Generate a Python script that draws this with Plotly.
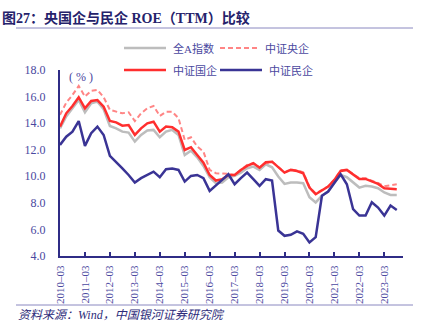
import plotly.graph_objects as go

quarters = [f"{y}-{m}" for y in range(2010, 2024) for m in ("03", "06", "09", "12")][:55]

all_a = [13.61, 14.50, 15.12, 15.74, 14.82, 15.49, 15.62, 15.04, 13.79, 13.61, 13.36, 13.29, 12.61, 13.11, 13.44, 13.49,
         12.94, 13.36, 13.49, 13.11, 11.60, 11.93, 11.43, 10.78, 9.93, 9.48, 9.53, 9.93, 10.03, 10.28, 10.60, 10.73,
         10.48, 10.90, 10.68, 9.98, 9.43, 9.53, 9.53, 9.48, 8.43, 8.03, 8.53, 8.85, 9.53, 10.10, 9.93, 9.53,
         9.15, 9.28, 9.23, 9.10, 8.78, 8.60, 8.60]
soe_central = [14.62, 15.54, 16.12, 16.80, 16.00, 16.44, 16.50, 15.95, 15.00, 14.86, 14.74, 14.82, 14.16, 14.74, 15.12, 15.29,
               14.54, 14.86, 14.86, 14.37, 12.74, 12.94, 12.24, 11.86, 10.48, 10.23, 10.23, 10.18, 10.10, 10.48, 10.86, 10.98,
               10.68, 10.98, 11.10, 10.70, 10.30, 10.50, 10.45, 10.30, 9.20, 8.70, 8.95, 9.25, 9.75, 10.45, 10.50, 10.20,
               9.85, 9.85, 9.70, 9.50, 9.25, 9.35, 9.40]
soe = [13.74, 14.74, 15.29, 15.95, 15.12, 15.67, 15.74, 15.24, 14.16, 14.06, 13.81, 13.86, 13.11, 13.61, 13.99, 14.11,
       13.36, 13.74, 13.69, 13.36, 11.98, 12.19, 11.60, 11.03, 10.10, 9.68, 9.78, 10.10, 10.10, 10.48, 10.78, 10.98,
       10.65, 11.06, 11.10, 10.68, 10.28, 10.48, 10.40, 10.23, 9.15, 8.65, 8.93, 9.23, 9.73, 10.40, 10.48, 10.15,
       9.80, 9.80, 9.60, 9.43, 9.10, 9.05, 9.03]
private = [12.36, 12.98, 13.36, 14.16, 12.29, 13.24, 13.74, 13.11, 11.53, 11.10, 10.60, 10.10, 9.53, 9.86, 10.10, 10.35,
           9.93, 10.53, 10.58, 10.48, 9.60, 10.03, 10.10, 9.86, 8.90, 9.28, 9.73, 10.15, 9.40, 9.86, 10.28, 9.78,
           9.28, 9.78, 9.68, 5.92, 5.52, 5.60, 5.85, 5.67, 5.02, 5.42, 8.53, 8.85, 9.48, 10.15, 9.40, 7.52,
           7.04, 7.04, 8.05, 7.65, 7.04, 7.80, 7.47]

tick_vals = [f"{y}-03" for y in range(2010, 2024)]
tick_text = [f"{y}–03" for y in range(2010, 2024)]

NAVY = "#2F2C86"
TXT = "#4A48A0"
SERIF = "Liberation Serif, Noto Sans CJK SC"
DASH = "5px,3px"

series = [
    ("全A指数", all_a, "#BDBDBD", "solid", 2.5),
    ("中证央企", soe_central, "#FF8585", DASH, 2.0),
    ("中证国企", soe, "#FF2E2E", "solid", 2.5),
    ("中证民企", private, "#3A3495", "solid", 2.5),
]

fig = go.Figure()
for name, vals, color, dash, w in series:
    fig.add_trace(go.Scatter(x=quarters, y=vals, mode="lines", name=name,
                             line=dict(color=color, width=w, dash=dash), showlegend=False))

fig.update_layout(
    width=424, height=326,
    margin=dict(l=60, r=21, t=70, b=70),
    paper_bgcolor="white", plot_bgcolor="white",
    font=dict(family=SERIF, color=TXT, size=12),
)
fig.update_xaxes(type="category", categoryorder="array", categoryarray=quarters,
                 range=[0, 55], tickmode="array", tickvals=tick_vals, ticktext=tick_text,
                 tickangle=-90, tickfont=dict(size=11, family=SERIF, color=TXT),
                 showline=True, linecolor=NAVY, linewidth=2, ticks="inside", ticklen=4,
                 tickwidth=1.5, tickcolor=NAVY, showgrid=False, zeroline=False,
                 ticklabelstandoff=3)
fig.update_yaxes(range=[4, 18], dtick=2, tick0=4, tickformat=".1f",
                 tickfont=dict(size=12, family=SERIF, color=TXT),
                 showline=True, linecolor=NAVY, linewidth=2, ticks="", showgrid=False,
                 zeroline=False, ticklabelstandoff=10)

# Title
fig.add_annotation(xref="paper", yref="paper", x=-60/343, y=1 + (70 - 18)/186, xanchor="left", yanchor="middle",
                   text="<b>图27：央国企与民企 ROE（TTM）比较</b>", showarrow=False,
                   font=dict(size=14, color="#25226B", family=SERIF))
fig.add_shape(type="line", xref="paper", yref="paper", x0=(16-60)/343, x1=(413-60)/343,
              y0=1 + (70 - 28)/186, y1=1 + (70 - 28)/186, line=dict(color="#8A88C0", width=1))
# Source
fig.add_shape(type="line", xref="paper", yref="paper", x0=(16-60)/343, x1=(413-60)/343,
              y0=-(305 - 256)/186, y1=-(305 - 256)/186, line=dict(color="#8A88C0", width=1))
fig.add_annotation(xref="paper", yref="paper", x=(16-60)/343, y=-(315 - 256)/186, xanchor="left", yanchor="middle",
                   text="<i>资料来源：Wind，中国银河证券研究院</i>", showarrow=False,
                   font=dict(size=12, color="#2E2C7A", family=SERIF))
# Unit
fig.add_annotation(xref="paper", yref="paper", x=(67-60)/343, y=1 - (77 - 70)/186, xanchor="left", yanchor="middle",
                   text="( % )", showarrow=False, font=dict(size=12, color=TXT, family=SERIF))

# Legend (manual)
leg = [("全A指数", "#BDBDBD", "solid", 124, 166, 48),
       ("中证央企", "#FF8585", DASH, 220, 258, 48),
       ("中证国企", "#FF2E2E", "solid", 124, 166, 70),
       ("中证民企", "#3A3495", "solid", 220, 262, 70)]
for name, color, dash, x0, x1, yy in leg:
    yp = 1 + (70 - yy)/186
    fig.add_shape(type="line", xref="paper", yref="paper", x0=(x0-60)/343, x1=(x1-60)/343, y0=yp, y1=yp,
                  line=dict(color=color, width=2.5 if dash == "solid" else 2, dash=dash))
    fig.add_annotation(xref="paper", yref="paper", x=(x1 + 5 - 60)/343, y=yp, xanchor="left", yanchor="middle",
                       text=name, showarrow=False, font=dict(size=11, color=TXT, family=SERIF))

fig.write_html("out.html")
